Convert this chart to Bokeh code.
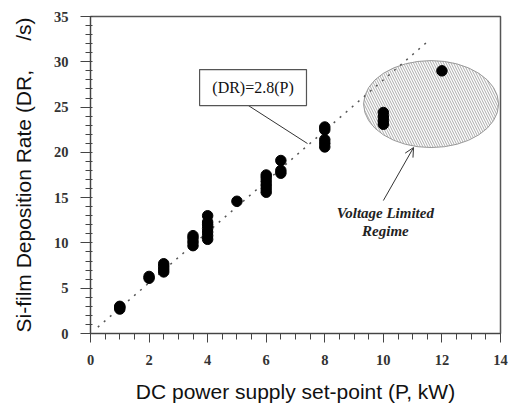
from bokeh.plotting import figure
from bokeh.models import (Label, Arrow, OpenHead, FixedTicker, Range1d)
from bokeh.embed import file_html
from bokeh.resources import INLINE

# Measured deposition rate vs. DC power set-point
power_kw = [1, 1, 1,
            2, 2,
            2.5, 2.5, 2.5, 2.5,
            3.5, 3.5, 3.5, 3.5,
            4, 4, 4, 4, 4, 4, 4,
            5,
            6, 6, 6, 6, 6, 6,
            6.5, 6.5, 6.5,
            8, 8, 8, 8, 8,
            10, 10, 10, 10,
            12]
rate = [2.7, 2.9, 3.0,
        6.1, 6.3,
        6.8, 7.1, 7.4, 7.7,
        9.7, 10.1, 10.5, 10.8,
        10.4, 10.8, 11.2, 11.6, 12.0, 12.3, 13.0,
        14.6,
        15.6, 16.0, 16.4, 16.8, 17.2, 17.5,
        17.7, 18.0, 19.1,
        20.6, 21.0, 21.4, 22.5, 22.8,
        23.1, 23.5, 23.9, 24.4,
        29.0]

# Linear fit DR = 2.8 P
fit_slope = 2.8
fit_x = [0.25, 11.6]
fit_y = [fit_slope * v for v in fit_x]

x_ticks = [0, 2, 4, 6, 8, 10, 12, 14]
y_ticks = [0, 5, 10, 15, 20, 25, 30, 35]

p = figure(width=513, height=408, output_backend="svg", toolbar_location=None,
           x_range=Range1d(0, 14), y_range=Range1d(0, 35),
           min_border_left=90, min_border_right=13, min_border_top=16,
           min_border_bottom=75)
p.grid.visible = False
p.background_fill_color = "white"
p.outline_line_color = "#555555"
p.outline_line_width = 1.5

# axes
tick_font = "Liberation Serif"
for ax in (p.xaxis[0], p.yaxis[0]):
    ax.major_label_text_font = tick_font
    ax.major_label_text_font_style = "bold"
    ax.major_label_text_font_size = "14.5px"
    ax.major_label_text_color = "#333333"
    ax.axis_line_color = "#444444"
    ax.major_tick_line_color = "#444444"
    ax.minor_tick_line_color = "#444444"
    ax.axis_label_text_font = "Liberation Sans"
    ax.axis_label_text_font_style = "normal"
    ax.axis_label_text_font_size = "21px"
    ax.axis_label_text_color = "#111111"

p.xaxis.ticker = FixedTicker(ticks=x_ticks, minor_ticks=[i * 0.5 for i in range(29)])
p.yaxis.ticker = FixedTicker(ticks=y_ticks, minor_ticks=list(range(36)))
p.xaxis.major_tick_out = 9
p.xaxis.major_tick_in = 0
p.xaxis.minor_tick_out = 6
p.xaxis.minor_tick_in = 0
p.yaxis.major_tick_out = 10
p.yaxis.major_tick_in = 0
p.yaxis.minor_tick_out = 5
p.yaxis.minor_tick_in = 2
p.xaxis.major_label_standoff = 12
p.yaxis.major_label_standoff = 12
p.xaxis.axis_label = "DC power supply set-point (P, kW)"
# non-breaking spaces keep the gap before the unit
p.yaxis.axis_label = "Si-film Deposition Rate (DR,\u00a0\u00a0\u00a0\u00a0\u00a0/s)"
p.xaxis.axis_label_standoff = 12
p.yaxis.axis_label_standoff = 16

# voltage-limited region
p.ellipse(x=11.63, y=25.33, width=4.61, height=9.6,
          fill_color="white", line_color="#9a9a9a", line_width=1,
          hatch_pattern="\\", hatch_color="#a0a0a0", hatch_scale=5,
          hatch_weight=0.9)

# fit line
p.line(fit_x, fit_y, line_color="#555555", line_width=1.5, line_dash="2 6")

# data
p.scatter(power_kw, rate, size=10.5, marker="circle", fill_color="black",
          line_color="black")

# fit equation label with leader
p.line([5.39, 7.41], [25.17, 20.97], line_color="#333333", line_width=1)
p.rect(x=5.55, y=27.15, width=3.65, height=3.97, fill_color="white",
       line_color="#555555", line_width=1.2)
p.add_layout(Label(x=5.55, y=27.15, text="(DR)=2.8(P)", text_align="center",
                   text_baseline="middle", text_font="Liberation Serif",
                   text_font_size="16px", text_color="#111111"))

# regime annotation
p.add_layout(Arrow(end=OpenHead(size=9, line_color="#333333", line_width=1),
                   x_start=10.0, y_start=14.68, x_end=11.03, y_end=20.53,
                   line_color="#333333", line_width=1))
for txt, yy in (("Voltage Limited", 13.35), ("Regime", 11.37)):
    p.add_layout(Label(x=10.07, y=yy, text=txt, text_align="center",
                       text_baseline="middle", text_font="Liberation Serif",
                       text_font_style="bold italic", text_font_size="15px",
                       text_color="#222222"))

open("out.html", "w").write(file_html(p, INLINE))
